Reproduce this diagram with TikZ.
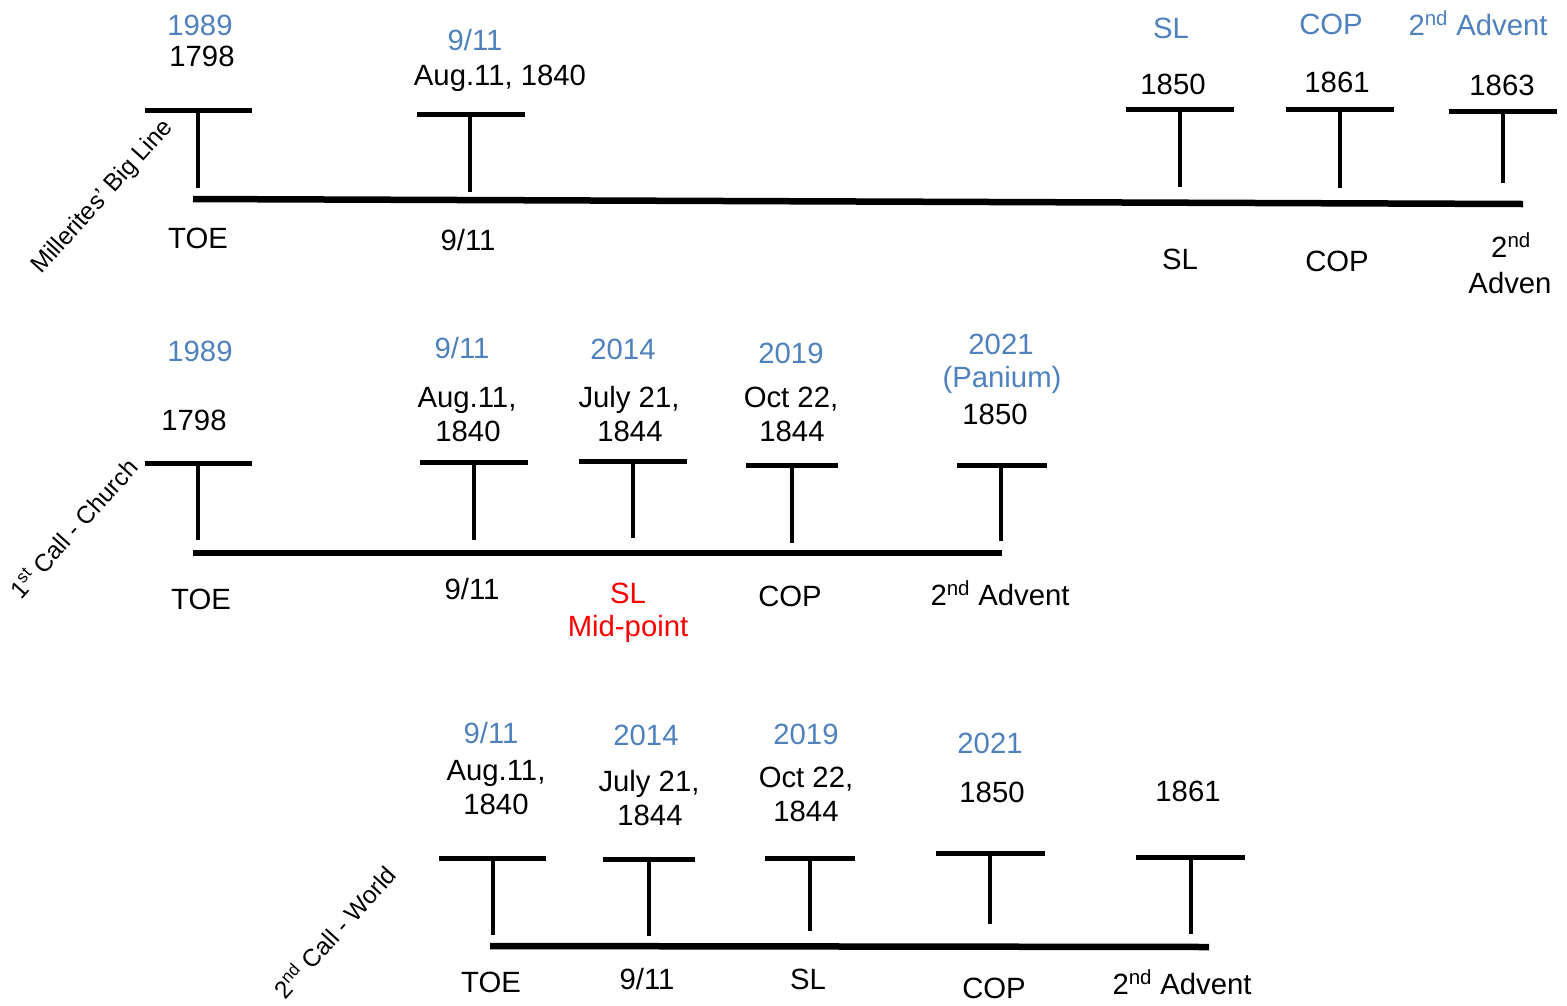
\documentclass[tikz,border=0pt]{standalone}
\usepackage{fontspec}
\setmainfont{Liberation Sans}
\definecolor{lblue}{HTML}{4F81BD}
\newcommand\Tmark[6]{%
  \coordinate (#1L) at (#2,#4);
  \coordinate (#1R) at (#3,#4);
  \coordinate (#1T) at (#5,#4);
  \coordinate (#1B) at (#5,#6);
  \draw[barline] (#1L) -- (#1R);
  \draw[stemline] (#1T) -- (#1B);}
\begin{document}
\begin{tikzpicture}[x=1pt,y=-1pt,
  barline/.style={line width=5pt},
  stemline/.style={line width=4.6pt},
  mainline/.style={line width=6.5pt},
  lbl/.style={inner sep=0pt,anchor=base,font=\fontsize{29.3}{31}\selectfont},
  blbl/.style={lbl,text=lblue},
  rlbl/.style={lbl,text=red},
  rot/.style={inner sep=0pt,rotate=48,font=\fontsize{24.5}{26}\selectfont}]
\useasboundingbox (0,0) rectangle (1567,1005);
% ---------- Row 1 ----------
\Tmark{a1}{145}{252}{110}{198}{188}
\Tmark{a2}{417}{525}{114}{470}{192}
\Tmark{a3}{1126}{1234}{109}{1180}{187}
\Tmark{a4}{1286}{1394}{109}{1340}{188}
\Tmark{a5}{1449}{1557}{111}{1503}{183}
\coordinate (a0s) at (193,199);
\coordinate (a0e) at (1523,204);
\draw[mainline] (a0s) -- (a0e);
\node[blbl] (a1y) at (200,35) {1989};
\node[lbl] (a1d) at (202,66) {1798};
\node[blbl] (a2y) at (475,50) {9/11};
\node[lbl] (a2d) at (500,85) {Aug.11, 1840};
\node[blbl] (a3y) at (1171,38) {SL};
\node[lbl] (a3d) at (1173,94) {1850};
\node[blbl] (a4y) at (1331,34) {COP};
\node[lbl] (a4d) at (1337,92) {1861};
\node[blbl] (a5y) at (1478,35) {2\textsuperscript{nd} Advent};
\node[lbl] (a5d) at (1502,95) {1863};
\node[lbl] (a1b) at (198,248) {TOE};
\node[lbl] (a2b) at (468,250) {9/11};
\node[lbl] (a3b) at (1180,269) {SL};
\node[lbl] (a4b) at (1337,271) {COP};
\node[lbl] (a5b) at (1511,257) {2\textsuperscript{nd}};
\node[lbl] (a5c) at (1510,293) {Adven};
\node[rot] (atitle) at (103,197) {Millerites’ Big Line};
% ---------- Row 2 ----------
\Tmark{b1}{145}{252}{463}{198}{540}
\Tmark{b2}{420}{528}{462}{474}{540}
\Tmark{b3}{579}{687}{461}{633}{538}
\Tmark{b4}{746}{838}{465}{792}{543}
\Tmark{b5}{957}{1047}{465}{1001}{541}
\coordinate (b0s) at (193,553);
\coordinate (b0e) at (1002,553);
\draw[mainline] (b0s) -- (b0e);
\node[blbl] (b1y) at (200,361) {1989};
\node[lbl] (b1d) at (194,430) {1798};
\node[blbl] (b2y) at (462,358) {9/11};
\node[lbl] (b2d) at (467,407) {Aug.11,};
\node[lbl] (b2e) at (468,441) {1840};
\node[blbl] (b3y) at (623,359) {2014};
\node[lbl] (b3d) at (629,407) {July 21,};
\node[lbl] (b3e) at (630,441) {1844};
\node[blbl] (b4y) at (791,363) {2019};
\node[lbl] (b4d) at (791,407) {Oct 22,};
\node[lbl] (b4e) at (792,441) {1844};
\node[blbl] (b5y) at (1001,354) {2021};
\node[blbl] (b5z) at (1002,387) {(Panium)};
\node[lbl] (b5d) at (995,424) {1850};
\node[lbl] (b1b) at (201,609) {TOE};
\node[lbl] (b2b) at (472,599) {9/11};
\node[rlbl] (b3b) at (628,603) {SL};
\node[rlbl] (b3c) at (628,636) {Mid-point};
\node[lbl] (b4b) at (790,606) {COP};
\node[lbl] (b5b) at (1000,605) {2\textsuperscript{nd} Advent};
\node[rot] (btitle) at (73,528) {1\textsuperscript{st} Call - Church};
% ---------- Row 3 ----------
\Tmark{c1}{439}{546}{858}{493}{935}
\Tmark{c2}{603}{695}{859}{649}{936}
\Tmark{c3}{765}{855}{858}{810}{931}
\Tmark{c4}{936}{1045}{853}{990}{924}
\Tmark{c5}{1136}{1245}{857}{1191}{934}
\coordinate (c0s) at (490,946);
\coordinate (c0e) at (1209,947);
\draw[mainline] (c0s) -- (c0e);
\node[blbl] (c1y) at (491,743) {9/11};
\node[lbl] (c1d) at (496,780) {Aug.11,};
\node[lbl] (c1e) at (496,814) {1840};
\node[blbl] (c2y) at (646,745) {2014};
\node[lbl] (c2d) at (649,791) {July 21,};
\node[lbl] (c2e) at (650,825) {1844};
\node[blbl] (c3y) at (806,744) {2019};
\node[lbl] (c3d) at (806,787) {Oct 22,};
\node[lbl] (c3e) at (806,821) {1844};
\node[blbl] (c4y) at (990,753) {2021};
\node[lbl] (c4d) at (992,802) {1850};
\node[lbl] (c5d) at (1188,801) {1861};
\node[lbl] (c1b) at (491,992) {TOE};
\node[lbl] (c2b) at (647,989) {9/11};
\node[lbl] (c3b) at (808,989) {SL};
\node[lbl] (c4b) at (994,998) {COP};
\node[lbl] (c5b) at (1182,994) {2\textsuperscript{nd} Advent};
\node[rot] (ctitle) at (334,931) {2\textsuperscript{nd} Call - World};
\end{tikzpicture}
\end{document}
